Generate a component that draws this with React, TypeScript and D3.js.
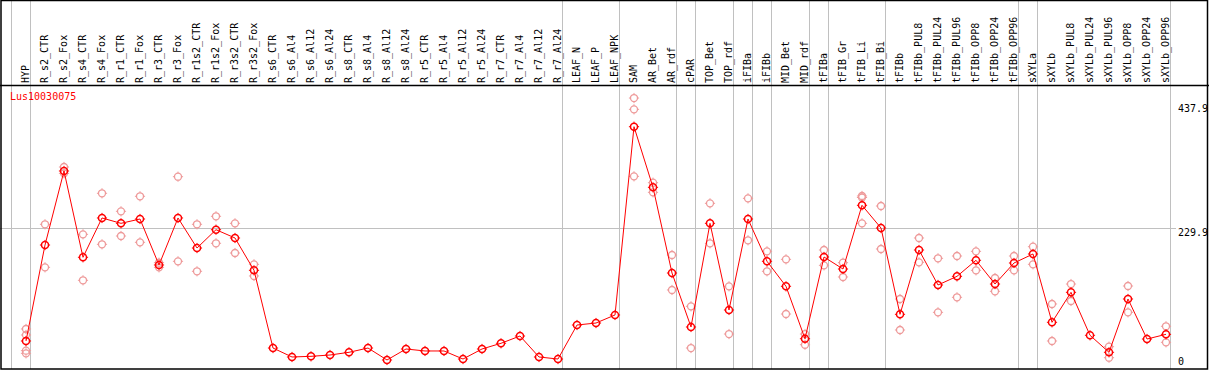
import React from "react";
import * as d3 from "d3";

const categories = [
  "HYP", "R_s2_CTR", "R_s2_Fox", "R_s4_CTR", "R_s4_Fox", "R_r1_CTR", "R_r1_Fox", "R_r3_CTR", "R_r3_Fox",
  "R_r1s2_CTR", "R_r1s2_Fox", "R_r3s2_CTR", "R_r3s2_Fox", "R_s6_CTR", "R_s6_Al4", "R_s6_Al12", "R_s6_Al24",
  "R_s8_CTR", "R_s8_Al4", "R_s8_Al12", "R_s8_Al24", "R_r5_CTR", "R_r5_Al4", "R_r5_Al12", "R_r5_Al24",
  "R_r7_CTR", "R_r7_Al4", "R_r7_Al12", "R_r7_Al24", "LEAF_N", "LEAF_P", "LEAF_NPK", "SAM", "AR_Bet", "AR_rdf",
  "cPAR", "TOP_Bet", "TOP_rdf", "iFIBa", "iFIBb", "MID_Bet", "MID_rdf", "tFIBa", "tFIB_Gr", "tFIB_Li", "tFIB_Bi",
  "tFIBb", "tFIBb_PUL8", "tFIBb_PUL24", "tFIBb_PUL96", "tFIBb_OPP8", "tFIBb_OPP24", "tFIBb_OPP96",
  "sXYLa", "sXYLb", "sXYLb_PUL8", "sXYLb_PUL24", "sXYLb_PUL96", "sXYLb_OPP8", "sXYLb_OPP24", "sXYLb_OPP96",
];

const meanValues = [
  42.7, 202.4, 325.6, 182.0, 247.4, 238.5, 245.7, 169.2, 247.4, 197.4, 227.9, 214.1, 160.3,
  31.0, 16.1, 17.2, 19.4, 23.9, 31.0, 11.1, 29.4, 26.1, 26.1, 12.7, 29.4, 38.9, 51.0, 16.1, 12.7,
  69.3, 72.6, 86.0, 399.3, 298.4, 155.8, 66.0, 238.5, 94.3, 245.7, 175.3, 133.7, 46.5, 182.5, 162.5,
  268.5, 230.7, 87.1, 194.1, 135.9, 150.3, 177.0, 137.5, 172.5, 187.5, 73.8, 123.7, 52.2, 23.9, 112.6,
  46.0, 53.8,
];

const replicateValues: number[][] = [
  [62.7, 52.7, 26.6, 22.2], [236.9, 165.3], [332.2, 321.7], [220.2, 143.7], [288.5, 203.6], [258.5, 217.4],
  [283.5, 206.9], [173.0, 165.3], [316.1, 175.3], [236.9, 158.7], [250.2, 205.3], [238.5, 189.1], [170.3, 150.9],
  [], [], [], [], [], [], [], [], [], [], [], [], [], [], [], [],
  [], [], [], [447.0, 428.2, 316.7], [306.1, 290.1], [185.8, 127.6], [100.4, 31.0], [271.8, 205.3],
  [133.7, 54.3], [280.1, 210.3], [191.9, 158.7], [178.6, 87.6], [54.3, 36.5], [194.1, 168.6], [173.0, 149.2],
  [284.0, 281.5, 238.5], [267.3, 195.8], [112.6, 61.0], [214.1, 173.6], [180.3, 90.4], [184.1, 115.4],
  [191.9, 160.3], [147.5, 125.4], [184.1, 160.3], [199.6, 170.3], [104.3, 42.7], [137.5, 109.3], [],
  [33.2, 14.9], [134.2, 90.4], [], [67.2, 40.5],
];

const yTicks = [0, 229.9, 437.9];
const groupStarts = ["HYP", "R_s2_CTR", "LEAF_N", "SAM", "cPAR", "TOP_Bet", "iFIBa", "iFIBb", "MID_Bet", "tFIBa", "tFIB_Gr", "tFIBb", "sXYLa", "sXYLb"];
const geneName = "Lus10030075";

const W = 1209;
const H = 370;
const FONT = "'DejaVu Sans Mono', monospace";

function Marker({ cx, cy, color, sw }: { cx: number; cy: number; color: string; sw: number }) {
  const r = 3.5;
  const s = 1.6;
  return (
    <g stroke={color} fill="none" strokeWidth={sw}>
      <circle cx={cx} cy={cy} r={r} />
      <line x1={cx} x2={cx} y1={cy - r - s} y2={cy - r} strokeWidth={1} />
      <line x1={cx} x2={cx} y1={cy + r} y2={cy + r + s} strokeWidth={1} />
      <line x1={cx - r - s} x2={cx - r} y1={cy} y2={cy} strokeWidth={1} />
      <line x1={cx + r} x2={cx + r + s} y1={cy} y2={cy} strokeWidth={1} />
    </g>
  );
}

export default function App() {
  const x = d3.scaleBand<string>().domain(categories).range([11, 1170]).paddingInner(0).paddingOuter(0);
  const y = d3.scaleLinear().domain([0, 437.9]).range([366.66, 103.5]);
  const mx = (c: string) => (x(c) as number) + 15;

  const lineGen = d3
    .line<number>()
    .x((_, i) => mx(categories[i]))
    .y((d) => y(d));

  const plotRight = (x(categories[categories.length - 1]) as number) + x.bandwidth();

  return (
    <svg
      width={W}
      height={H}
      style={{ position: "absolute", left: 0, top: 0, background: "#fff" }}
      fontFamily={FONT}
    >
      <rect x={0} y={0} width={W} height={H} fill="#fff" />
      {/* vertical group lines */}
      {groupStarts.map((c) => (
        <line key={c} x1={(x(c) as number) + 0.5} x2={(x(c) as number) + 0.5} y1={0} y2={369} stroke="#c0c0c0" strokeWidth={1} />
      ))}
      <line x1={plotRight + 0.5} x2={plotRight + 0.5} y1={0} y2={369} stroke="#c0c0c0" strokeWidth={1} />
      {/* horizontal gridline */}
      <line x1={0} x2={1176} y1={Math.round(y(229.9)) + 0.5} y2={Math.round(y(229.9)) + 0.5} stroke="#c0c0c0" strokeWidth={1} />

      {/* header labels */}
      {categories.map((c) => (
        <text
          key={c}
          transform={`translate(${mx(c) + 3},83) rotate(-90)`}
          fontSize={10}
          fill="#000"
        >
          {c}
        </text>
      ))}

      {/* frame */}
      <line x1={0} x2={W} y1={85.5} y2={85.5} stroke="#000" strokeWidth={1.5} />
      <rect x={1} y={0.5} width={1206.5} height={368.5} fill="none" stroke="#000" strokeWidth={1.5} />

      {/* y labels */}
      {yTicks.map((t) => {
        const base = t === 0 ? 365 : Math.round(y(t)) + 8;
        return (
          <text key={t} x={1178} y={base} fontSize={10} fill="#000">
            {t === 0 ? "0" : t.toFixed(1)}
          </text>
        );
      })}

      <text x={10} y={100} fontSize={10} fill="#ff0000">
        {geneName}
      </text>

      {/* replicates */}
      {replicateValues.map((reps, i) =>
        reps.map((v, j) => <Marker key={`${i}-${j}`} cx={mx(categories[i])} cy={y(v)} color="#ee9a9a" sw={1.3} />)
      )}

      {/* mean line */}
      <path d={lineGen(meanValues) || ""} fill="none" stroke="#ff0000" strokeWidth={1} />
      {meanValues.map((v, i) => (
        <Marker key={`m${i}`} cx={mx(categories[i])} cy={y(v)} color="#ff0000" sw={1.5} />
      ))}
    </svg>
  );
}
